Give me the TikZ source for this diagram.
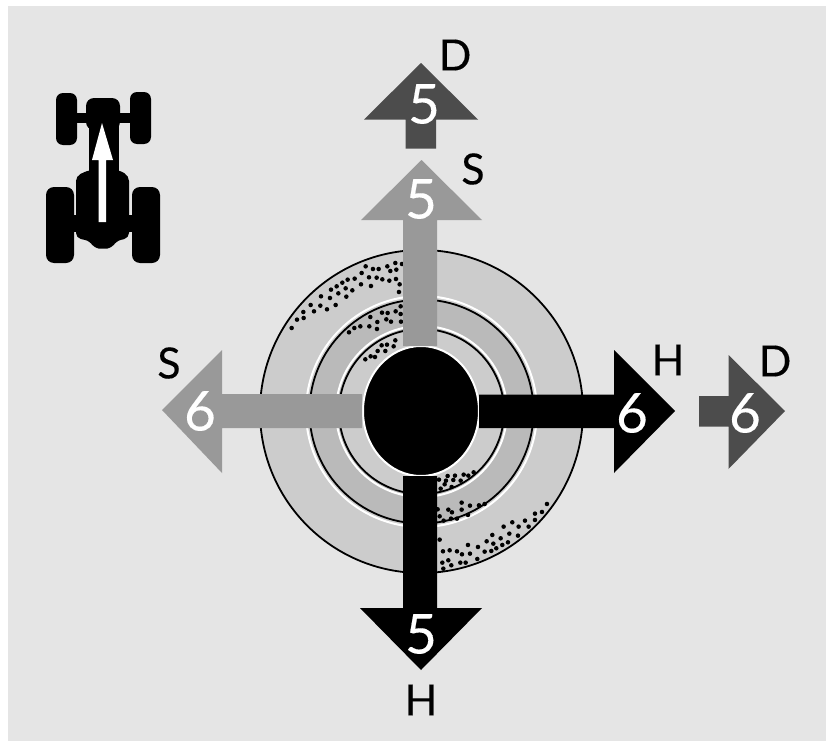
\documentclass[tikz,border=0pt]{standalone}
\usepackage{fontspec}
\setmainfont{Lato}
\newfontfamily\lblfont[FakeBold=0.25]{Lato}
\definecolor{bgc}{gray}{0.898}
\definecolor{ringa}{gray}{0.80}
\definecolor{ringb}{gray}{0.73}
\definecolor{sgrey}{gray}{0.60}
\definecolor{dgrey}{gray}{0.30}
\tikzset{
  ringline/.style={draw=black,line width=1.8pt},
  digit/.style={text=white,font=\lblfont\fontsize{55}{55}\selectfont,inner sep=0pt},
  letter/.style={text=black,font=\lblfont\fontsize{43}{43}\selectfont,inner sep=0pt},
  wht/.style={draw=white,line width=2pt},
}
\begin{document}
\begin{tikzpicture}[x=1pt,y=-1pt]
\useasboundingbox (0,0) rectangle (828,744);
\fill[white] (0,0) rectangle (828,744);
\fill[bgc] (8,6) rectangle (826,741);
% rings
\filldraw[ringline,fill=ringa] (421.5,411.5) circle[radius=161.5];
\draw[wht] (421.5,411.5) circle[radius=115.5];
\filldraw[ringline,fill=ringb] (421.5,411.5) circle[radius=112];
\draw[wht] (421.5,411.5) circle[radius=85.5];
\filldraw[ringline,fill=ringa] (421.5,411.5) circle[radius=82.5];
% dots
\begin{scope}[shift={(250,240)},x=0.3333pt,y=-0.3333pt]
\foreach \p in {(347,79),(369,87),(386,87),(412,79),(436,69),(456,72),(421,93),(439,89),(335,99),(357,112),(380,113),(397,118),(418,122),(438,117),(314,116),(293,119),(277,128),(260,139),(243,149),(333,133),(363,138),(287,145),(307,151),(265,160),(240,174),(213,169),(289,170),(449,133),(447,156),(182,195),(211,197),(257,195),(231,208),(160,216),(192,214),(161,234),(141,239),(125,264),
(452,199),(396,218),(413,219),(437,214),(452,222),(361,231),(409,238),(423,245),(382,246),(453,245),(331,259),(313,264),(358,259),(381,267),(297,277),
(436,301),(395,316),(411,314),(431,319),(383,333),(406,333),(375,351),(362,349),(346,358),
(671,697),(641,704),(655,707),(615,707),(593,708),(567,719),(588,722),(610,720),(632,722),(584,733),(605,741),(572,746),
(891,792),(704,792),(687,796),(635,788),(660,797),(563,808),(595,809),(606,817),(635,809),(654,825),(569,829),(581,842),(603,836),(621,836),
(855,821),(876,816),(787,847),(825,842),(855,840),(761,860),(806,860),(836,860),(778,881),(804,887),(727,885),(752,895),(569,899),(710,904),(730,911),(774,907),(757,915),(654,915),(684,921),(739,925),(724,933),(704,935),(599,931),(579,934),(621,934),(636,943),(660,941),(682,957),(595,961),(577,968),(631,968),(647,968),(604,976),(580,986)}
  \fill[black] \p circle[radius=6.8];
\end{scope}
% centre
\filldraw[wht,fill=black] (421,411) ellipse[x radius=58,y radius=65];
% up S arrow
\fill[sgrey] (421.5,160) -- (482,220) -- (437,220) -- (437,346) -- (403,346) -- (403,220) -- (361,220) -- cycle;
% up D arrow
\fill[dgrey] (421,63) -- (478,119.5) -- (436,119.5) -- (436,148.5) -- (405.5,148.5) -- (405.5,119.5) -- (364,119.5) -- cycle;
% left S arrow
\fill[sgrey] (162,410) -- (222,350) -- (222,394) -- (362,394) -- (362,428) -- (222,428) -- (222,473) -- cycle;
% right H arrow
\fill[black] (675,411) -- (614,350) -- (614,394.5) -- (479,394.5) -- (479,428) -- (614,428) -- (614,473) -- cycle;
% right D arrow
\fill[dgrey] (785,411) -- (728.5,355) -- (728.5,396) -- (699,396) -- (699,426.5) -- (728.5,426.5) -- (728.5,469) -- cycle;
% down H arrow
\fill[black] (421,670) -- (482,608) -- (437,608) -- (437,476) -- (403,476) -- (403,608) -- (360,608) -- cycle;
% digits
\node[digit] (d1) at (424,104) {5};
\node[digit] (d2) at (421,199) {5};
\node[digit] (d3) at (200,411) {6};
\node[digit] (d4) at (632,413) {6};
\node[digit] (d5) at (745,413) {6};
\node[digit] (d6) at (421,634) {5};
% letters
\node[letter] (l1) at (455,55) {D};
\node[letter] (l2) at (473,169) {S};
\node[letter] (l3) at (169,363) {S};
\node[letter] (l4) at (668,360) {H};
\node[letter] (l5) at (775,361) {D};
\node[letter] (l6) at (421,700) {H};
% tractor
\fill[black,rounded corners=7pt] (56,93) rectangle (77,145);
\fill[black,rounded corners=7pt] (130,92) rectangle (151,144);
\fill[black] (70,113) rectangle (135,123);
\fill[black,rounded corners=8pt] (86,98) rectangle (120,130);
\fill[black] (89,115) rectangle (119,180);
\fill[black,rounded corners=5pt] (76,176) -- (89,170) -- (119,170) -- (129,176) -- (129,238) -- (116,241) -- (112,248) -- (103,249) -- (94,248) -- (90,241) -- (76,238) -- cycle;
\fill[black,rounded corners=8pt] (46,187) rectangle (74,263);
\fill[black,rounded corners=8pt] (132,187) rectangle (160,263);
\fill[black] (72,215) rectangle (134,232);
\fill[white] (102,123) -- (113,160) -- (106,160) -- (106,222) -- (98.5,222) -- (98.5,160) -- (92,160) -- cycle;
\end{tikzpicture}
\end{document}
